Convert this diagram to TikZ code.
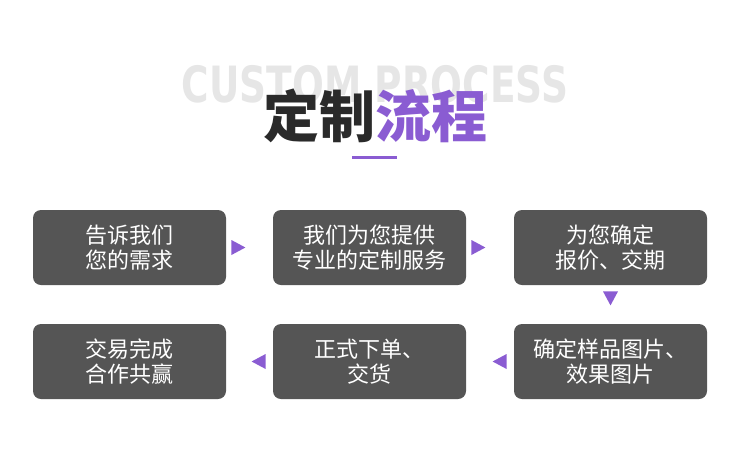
\documentclass[tikz,border=0pt]{standalone}
\usepackage{fontspec}
\usepackage{xcolor}
\newfontfamily\cjk{Noto Sans CJK SC}
\newfontfamily\latinbold{DejaVu Sans}
\usetikzlibrary{positioning,shapes.geometric}

\definecolor{boxgray}{HTML}{555555}
\definecolor{flowpurple}{HTML}{8A5CD2}
\definecolor{ghostgray}{HTML}{E6E6E6}
\definecolor{titledark}{HTML}{2A2A2A}

\tikzset{
  stepbox/.style={fill=boxgray, rounded corners=8pt, minimum width=193pt, minimum height=75pt,
    text=white, align=center, inner sep=0pt, font=\cjk\fontsize{22}{25}\selectfont},
  tri/.style={isosceles triangle, isosceles triangle stretches, fill=flowpurple,
    minimum height=14pt, minimum width=15pt, inner sep=0pt}
}

\begin{document}
\begin{tikzpicture}[x=1pt,y=-1pt]
\useasboundingbox (0,0) rectangle (750,475);
% title
\node[ghostgray,font=\latinbold\bfseries\fontsize{50}{50}\selectfont,xscale=0.75] (ghost) at (375,84) {CUSTOM PROCESS};
\node[titledark,font=\cjk\bfseries\fontsize{56}{56}\selectfont] (title) at (375,116) {定制\textcolor{flowpurple}{流程}};
\draw[flowpurple, line width=3pt] (352,157) -- (397,157);
% steps
\node[stepbox] (s1) at (129.5,247.5) {告诉我们\\您的需求};
\node[stepbox] (s2) at (369.5,247.5) {我们为您提供\\专业的定制服务};
\node[stepbox] (s3) at (610.5,247.5) {为您确定\\报价、交期};
\node[stepbox] (s6) at (610.5,361.5) {确定样品图片、\\效果图片};
\node[stepbox] (s5) at (369.5,361.5) {正式下单、\\交货};
\node[stepbox] (s4) at (129.5,361.5) {交易完成\\合作共赢};
% arrows
\node[tri, right=5pt of s1] (a12) {};
\node[tri, right=5pt of s2] (a23) {};
\node[tri, shape border rotate=270, below=6pt of s3] (a36) {};
\node[tri, shape border rotate=180, left=7pt of s6] (a65) {};
\node[tri, shape border rotate=180, left=7pt of s5] (a54) {};
\end{tikzpicture}
\end{document}
